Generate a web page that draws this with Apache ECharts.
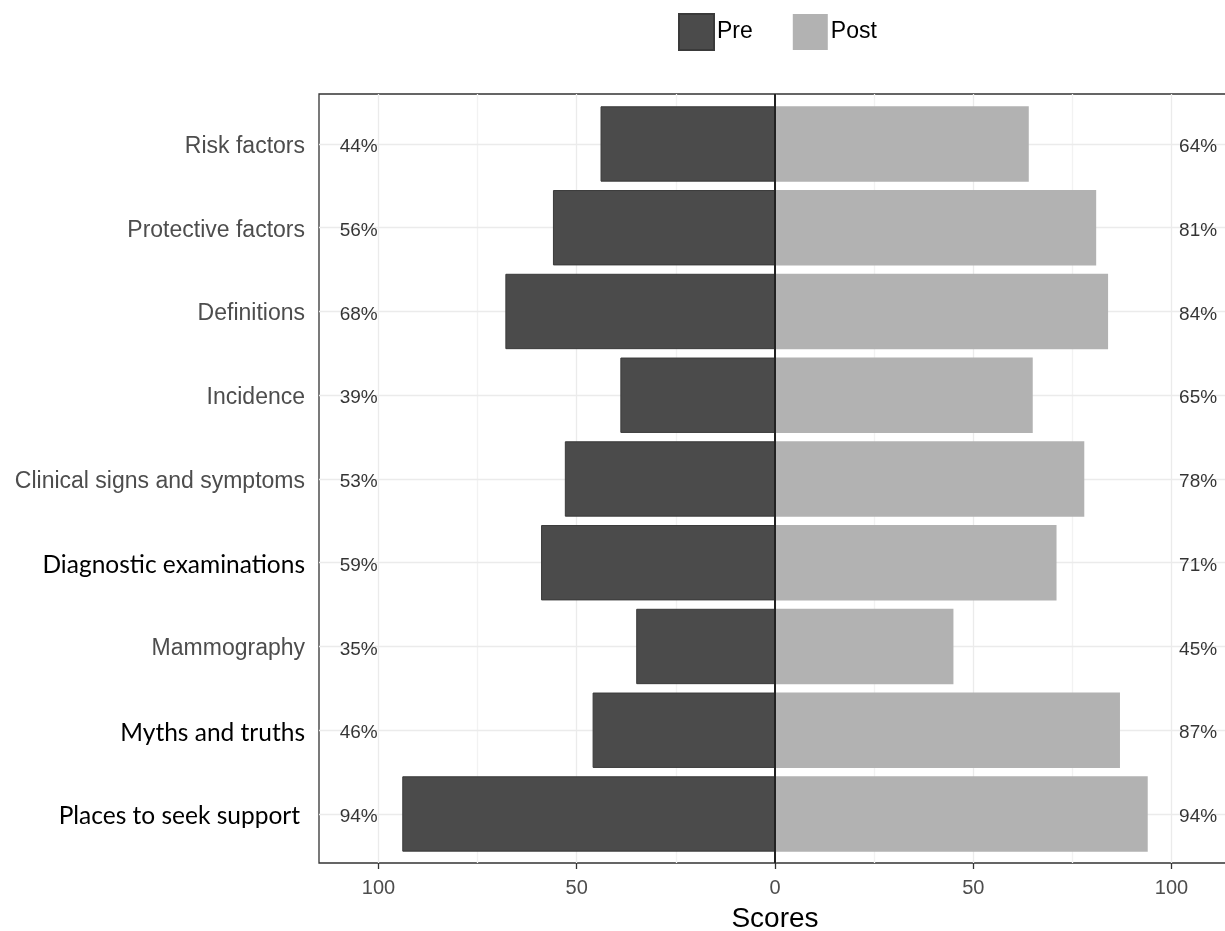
<!DOCTYPE html>
<html><head><meta charset="utf-8">
<script src="https://cdn.jsdelivr.net/npm/echarts@6/dist/echarts.min.js"></script>
<style>html,body{margin:0;padding:0;background:#fff}#c{width:1225px;height:931px}</style>
</head><body><div id="c"></div>
<script>
// ---- data ----
const categories = ['Risk factors','Protective factors','Definitions','Incidence','Clinical signs and symptoms','Diagnostic examinations','Mammography','Myths and truths','Places to seek support'];
const preScores = [44,56,68,39,53,59,35,46,94];
const postScores = [64,81,84,65,78,71,45,87,94];
const xMajorTicks = [-100,-50,0,50,100];
const xMinorTicks = [-75,-25,25,75];
const seriesNames = ['Pre','Post'];

// ---- styling ----
const FONT = '"Liberation Sans", Arial, sans-serif';
const altFontLabels = {'Diagnostic examinations':'b','Myths and truths':'b','Places to seek support':'c'};
const PRE_LABEL_X = -105, POST_LABEL_X = 106.7;

const chart = echarts.init(document.getElementById('c'), null, {renderer:'canvas'});
const option = {
  animation: false,
  backgroundColor: '#fff',
  legend: {
    data: seriesNames, left: 678, top: 13, padding: 0,
    itemWidth: 35, itemHeight: 36, itemGap: 40, icon: 'rect', selectedMode: false,
    textStyle: {fontSize: 23, color: '#000', fontFamily: FONT, padding: [4, 0, 0, -2]}
  },
  grid: [
    {left: 319, top: 94, width: 912, height: 769, show: true, borderColor: '#333', borderWidth: 1.3, backgroundColor: '#fff', outerBoundsMode: 'none', containLabel: false},
    {left: 319, top: 102.1, width: 912, height: 753.75, outerBoundsMode: 'none', containLabel: false}
  ],
  xAxis: [
    {gridIndex: 0, type: 'value', min: -115, max: 115,
     axisLine: {show: false}, splitLine: {show: false},
     axisTick: {show: true, customValues: xMajorTicks, length: 6, lineStyle: {color: '#333', width: 1.3}},
     axisLabel: {customValues: xMajorTicks, formatter: v => String(Math.abs(v)), color: '#4d4d4d', fontSize: 20, fontFamily: FONT, margin: 15},
     name: 'Scores', nameLocation: 'middle', nameGap: 42,
     nameTextStyle: {fontSize: 28, color: '#000', fontFamily: FONT}},
    {gridIndex: 1, type: 'value', min: -115, max: 115, show: false}
  ],
  yAxis: [
    {gridIndex: 0, type: 'value', min: 0, max: 1, show: false},
    {gridIndex: 1, type: 'category', data: categories, inverse: true,
     axisLine: {show: false}, splitLine: {show: false},
     axisTick: {show: true, alignWithLabel: true, length: 6, lineStyle: {color: '#333', width: 1.3}},
     axisLabel: {
       margin: 14,
       formatter: v => '{' + (altFontLabels[v] || 'a') + '|' + v + '}',
       rich: {
         a: {fontSize: 23, color: '#4d4d4d', fontFamily: FONT, padding: [5, 0, 0, 0]},
         b: {fontSize: 24.5, color: '#000', fontFamily: 'Lato, sans-serif', padding: [5, 0, 0, 0]},
         c: {fontSize: 24.5, color: '#000', fontFamily: 'Lato, sans-serif', padding: [5, 5, 0, 0]}
       }
     }}
  ],
  series: [
    {type: 'line', xAxisIndex: 0, yAxisIndex: 0, data: [], silent: true, z: 1,
     markLine: {silent: true, symbol: 'none', z: 1, animation: false, label: {show: false},
       data: xMajorTicks.map(v => ({xAxis: v, lineStyle: {color: '#ebebeb', width: 1.3, type: 'solid'}}))
         .concat(xMinorTicks.map(v => ({xAxis: v, lineStyle: {color: '#f2f2f2', width: 1.3, type: 'solid'}})))}},
    {type: 'line', xAxisIndex: 1, yAxisIndex: 1, data: [], silent: true, z: 1,
     markLine: {silent: true, symbol: 'none', z: 1, animation: false, label: {show: false},
       lineStyle: {color: '#ebebeb', width: 1.3, type: 'solid'},
       data: categories.map(c => ({yAxis: c}))}},
    {name: seriesNames[0], type: 'bar', xAxisIndex: 1, yAxisIndex: 1, z: 2,
     data: preScores.map(v => -v), barWidth: '90%', barGap: '-100%',
     itemStyle: {color: '#4b4b4b', borderColor: '#3a3a3a', borderWidth: 1}},
    {name: seriesNames[1], type: 'bar', xAxisIndex: 1, yAxisIndex: 1, z: 2,
     data: postScores, barWidth: '90%', barGap: '-100%',
     itemStyle: {color: '#b2b2b2'}},
    {type: 'line', xAxisIndex: 0, yAxisIndex: 0, data: [], silent: true, z: 4,
     markLine: {silent: true, symbol: 'none', z: 6, animation: false, label: {show: false},
       lineStyle: {color: '#222', width: 2, type: 'solid'},
       data: [{xAxis: 0}]}},
    {type: 'scatter', xAxisIndex: 1, yAxisIndex: 1, symbolSize: 0, silent: true, z: 5,
     data: preScores.map((v, i) => [PRE_LABEL_X, categories[i], v]),
     label: {show: true, position: 'inside', offset: [0, 3], formatter: p => p.value[2] + '%', fontSize: 19, color: '#000', fontFamily: FONT}},
    {type: 'scatter', xAxisIndex: 1, yAxisIndex: 1, symbolSize: 0, silent: true, z: 5,
     data: postScores.map((v, i) => [POST_LABEL_X, categories[i], v]),
     label: {show: true, position: 'inside', offset: [0, 3], formatter: p => p.value[2] + '%', fontSize: 19, color: '#000', fontFamily: FONT}}
  ]
};
chart.setOption(option);
</script>
</body></html>
